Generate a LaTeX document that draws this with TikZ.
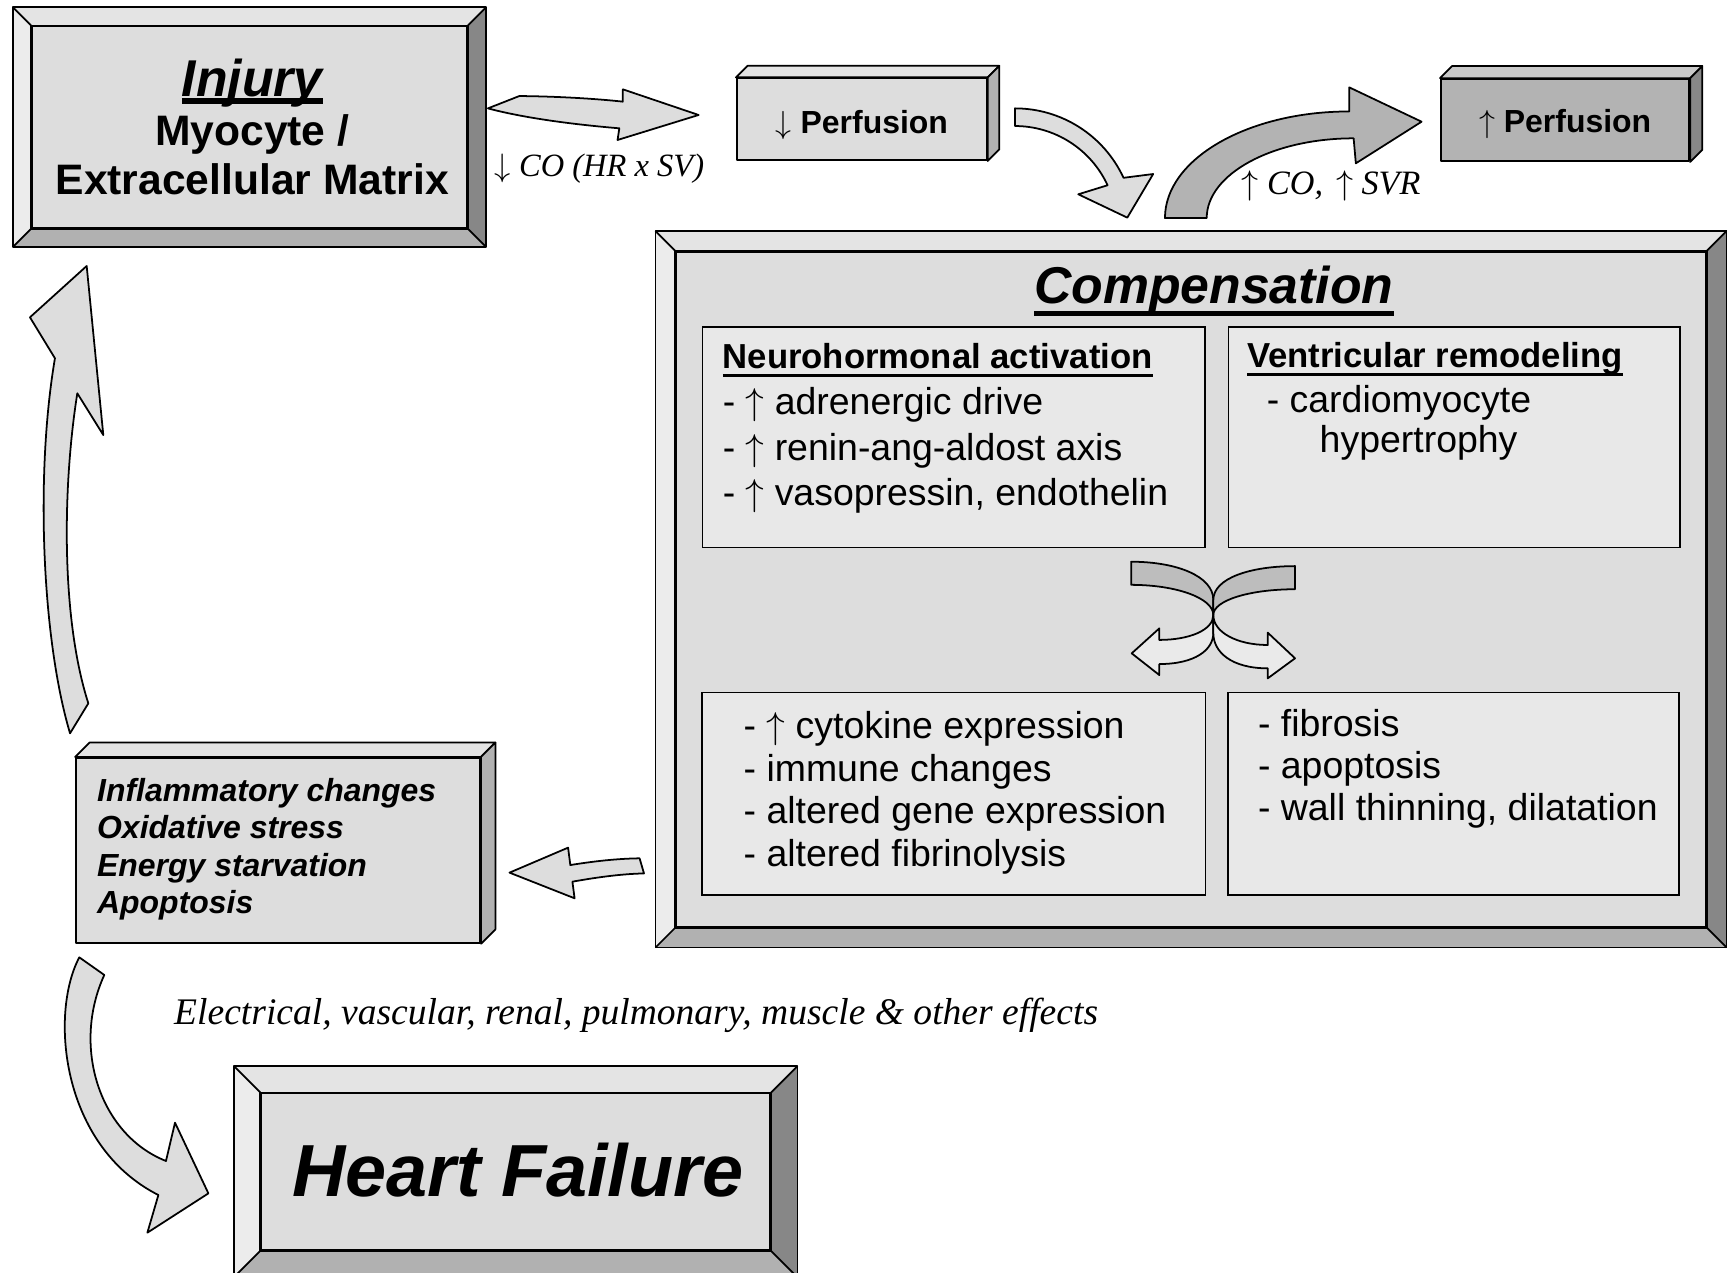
\documentclass[tikz,border=0pt]{standalone}
\usepackage{fix-cm}
\usepackage{fontspec}
\setmainfont{Liberation Serif}
\setsansfont{Liberation Sans}
\usepackage{tikz}
\usetikzlibrary{calc,positioning}

\definecolor{gface}{HTML}{DDDDDD}
\definecolor{gsub}{HTML}{E8E8E8}
\definecolor{gtop}{HTML}{E4E4E4}
\definecolor{gleft}{HTML}{ECECEC}
\definecolor{gright}{HTML}{878787}
\definecolor{gbottom}{HTML}{B1B1B1}
\definecolor{gdark}{HTML}{B3B3B3}
\definecolor{gdtop}{HTML}{C9C9C9}
\definecolor{gdside}{HTML}{888888}
\definecolor{gtwistdark}{HTML}{BDBDBD}
\definecolor{gtwistlight}{HTML}{EAEAEA}

\newcommand\fsz[2]{\fontsize{#1}{#2}\selectfont}
\newcommand\up{$\uparrow$}
\newcommand\dn{$\downarrow$}
\newsavebox\ulbox
\newcommand\thickul[3]{\sbox\ulbox{#3}\rlap{\rule[-#1]{\wd\ulbox}{#2}}\usebox\ulbox}

% bevelled frame round a face node
\newcommand\bevelframe[2]{%
  \coordinate (#1-a) at ($(#1.north west)+(-#2,-#2)$);
  \coordinate (#1-b) at ($(#1.north east)+(#2,-#2)$);
  \coordinate (#1-c) at ($(#1.south east)+(#2,#2)$);
  \coordinate (#1-d) at ($(#1.south west)+(-#2,#2)$);
  \fill[gtop] (#1-a) -- (#1-b) -- (#1.north east) -- (#1.north west) -- cycle;
  \fill[gright] (#1-b) -- (#1-c) -- (#1.south east) -- (#1.north east) -- cycle;
  \fill[gbottom] (#1-c) -- (#1-d) -- (#1.south west) -- (#1.south east) -- cycle;
  \fill[gleft] (#1-d) -- (#1-a) -- (#1.north west) -- (#1.south west) -- cycle;
  \draw[outline] (#1-a) -- (#1.north west) (#1-b) -- (#1.north east)
    (#1-c) -- (#1.south east) (#1-d) -- (#1.south west);
  \draw[outline] (#1-a) rectangle (#1-c) (#1.north west) rectangle (#1.south east);
}
% top and side of a raised box
\newcommand\slab[4]{%
  \filldraw[outline, fill=#3] (#1.north west) -- ++(#2,-#2) -- ($(#1.north east)+(#2,-#2)$) -- (#1.north east) -- cycle;
  \filldraw[outline, fill=#4] (#1.north east) -- ++(#2,-#2) -- ($(#1.south east)+(#2,-#2)$) -- (#1.south east) -- cycle;
}

\begin{document}
\begin{tikzpicture}[x=1pt, y=-1pt,
    every node/.append style={inner sep=0pt},
    outline/.style={line width=1.6pt, line join=round},
    face/.style={draw, outline, fill=gface},
    subbox/.style={draw, line width=1.5pt, fill=gsub},
    fat/.style={draw, outline, fill=gface},
    item/.style={font=\sffamily\fsz{34}{#1}, align=left, anchor=base west}]
  \useasboundingbox (0,0) rectangle (1568,1155);

  % injury
  \node[face, minimum width=395, minimum height=183] (injury) at (226.5,115.5) {};
  \bevelframe{injury}{16.5}
  \node[font=\sffamily\bfseries\fsz{38.7}{44.5}, align=center, anchor=base] (injurytxt) at (229,177)
    {{\fsz{47}{44.5}\thickul{6pt}{5pt}{\itshape Injury}}\\Myocyte /\\Extracellular Matrix};

  % perfusion boxes
  \node[face, minimum width=227, minimum height=74.3, text height=25.6pt, text depth=0pt,
        font=\sffamily\bfseries\fsz{29}{29}] (perfdown) at (782.5,108.2) {\dn\ Perfusion};
  \slab{perfdown}{10.5}{gtop}{gbottom}
  \node[face, fill=gdark, minimum width=225.5, minimum height=74.5, text height=22.2pt, text depth=0pt,
        font=\sffamily\bfseries\fsz{29}{29}] (perfup) at (1421,109) {\up\ Perfusion};
  \slab{perfup}{11}{gdtop}{gdside}

  % compensation
  \node[face, minimum width=935, minimum height=613] (comp) at (1081.4,535) {};
  \bevelframe{comp}{18}
  \node[font=\sffamily\bfseries\itshape\fsz{47}{47}, anchor=base] (comptitle) at (1102,276)
    {\thickul{10.5pt}{4.5pt}{Compensation}};

  \node[subbox, minimum width=456, minimum height=200] (neuro) at (865.8,397.1) {};
  \node[subbox, minimum width=409.6, minimum height=200, right=20.2pt of neuro] (remod) {};
  \node[subbox, minimum width=457.2, minimum height=184, below=130pt of neuro] (cyto) {};
  \node[subbox, minimum width=409.6, minimum height=184, right=18.9pt of cyto] (dilat) {};

  \node[item=41.7] (neurotxt) at (656,459.4)
    {{\bfseries\fsz{31.5}{41.7}\thickul{7.6pt}{2.6pt}{Neurohormonal activation}}\\- \up\ adrenergic drive\\- \up\ renin-ang-aldost axis\\- \up\ vasopressin, endothelin};
  \node[item=41.7] (remodtxt) at (1132,411)
    {{\bfseries\fsz{31.5}{41.7}\thickul{7.6pt}{2.6pt}{Ventricular remodeling}}\\[-1.5pt]\hspace*{18pt}- cardiomyocyte\\[-5pt]\hspace*{66pt}hypertrophy};
  \node[item=38.8] (cytotxt) at (675,786.9)
    {- \up\ cytokine expression\\- immune changes\\- altered gene expression\\- altered fibrinolysis};
  \node[item=37.8] (dilattxt) at (1142,744.5)
    {- fibrosis\\- apoptosis\\- wall thinning, dilatation};

  % crossing arrows
  \draw[fat, fill=gtwistlight] (1101.6,558.4) .. controls (1101.6,572) and (1080,581) .. (1052.6,581)
    -- (1052.6,570.5) -- (1027.5,593.2) -- (1052.6,612.9) -- (1052.6,602.9)
    .. controls (1085,602.9) and (1101.6,590) .. (1101.6,574.8) -- cycle;
  \draw[fat, fill=gtwistlight] (1101.6,558.4) .. controls (1101.6,574) and (1123,585.6) .. (1151,585.6)
    -- (1151,574.4) -- (1175.8,597.7) -- (1151,615.9) -- (1151,606.8)
    .. controls (1118,606.8) and (1101.6,592) .. (1101.6,574.8) -- cycle;
  \draw[fat, fill=gtwistdark] (1027,510) .. controls (1068,510) and (1101.6,523) .. (1101.6,544.7)
    -- (1101.6,558.4) .. controls (1101.6,543) and (1068,531) .. (1027,531) -- cycle;
  \draw[fat, fill=gtwistdark] (1175.8,514) .. controls (1135,514) and (1101.6,525) .. (1101.6,544.7)
    -- (1101.6,558.4) .. controls (1101.6,545) and (1135,535) .. (1175.8,535) -- cycle;

  % stress box
  \node[face, minimum width=367, minimum height=168] (stress) at (252.5,772) {};
  \slab{stress}{13}{gtop}{gbottom}
  \node[font=\sffamily\bfseries\itshape\fsz{29}{33.8}, align=left, anchor=base west] (stresstxt) at (88,829.3)
    {Inflammatory changes\\Oxidative stress\\Energy starvation\\Apoptosis};

  % heart failure
  \node[face, minimum width=462, minimum height=142] (hf) at (468.2,1063.8) {};
  \bevelframe{hf}{24}
  \node[font=\sffamily\bfseries\itshape\fsz{67}{67}, anchor=base] (hftxt) at (470,1086.5) {Heart Failure};

  % labels
  \node[font=\itshape\fsz{29.5}{30}, anchor=base west] (colbl) at (449,160) {\dn\ CO (HR x SV)};
  \node[font=\itshape\fsz{31}{31}, anchor=base west] (svrlbl) at (1127,177) {\up\ CO,\hspace{4pt} \up\ SVR};
  \node[font=\itshape\fsz{34.1}{34}, anchor=base west] (effects) at (158,930)
    {Electrical, vascular, renal, pulmonary, muscle \& other effects};

  % block arrows
  \draw[fat] (443,98.4) -- (471.5,87.2) .. controls (505,87.5) and (540,89.5) .. (565.5,92.3)
    -- (565.5,81.1) -- (634.3,104.4) -- (560.7,127.1) -- (562.3,116.5)
    .. controls (520,113) and (475,107) .. (443,98.4) -- cycle;
  \draw[fat] (921.5,98.4) arc[start angle=-90, end angle=-24.8, radius=108.6]
    -- (1047,158) -- (1023.5,197.6) -- (979,176.4) -- (1005.6,168.2)
    arc[start angle=-24.8, end angle=-90, radius=92.6] -- cycle;
  \draw[fat, fill=gdark] (1057.7,198) arc[start angle=180, end angle=270, x radius=167.3, y radius=96.8]
    -- (1225,79.3) -- (1290.7,110.5) -- (1231,148.3) -- (1229,125.6)
    arc[start angle=270, end angle=180, x radius=133.4, y radius=72.4] -- cycle;
  \draw[fat] (462.6,792.3) -- (515.8,769.6) -- (517.8,785.4) .. controls (545,781) and (565,779.5) .. (580.7,779.3)
    -- (584.7,793) .. controls (565,793.5) and (545,796) .. (519.7,800.5) -- (521.7,815.6) -- cycle;
  \draw[fat] (63.6,665.8) .. controls (38,580) and (32,430) .. (49.9,325.3) -- (27.2,288.1) -- (78.7,241.5)
    -- (93.8,395) -- (70.2,357.1) .. controls (57,440) and (55,560) .. (80.2,638.6) -- cycle;
  \draw[fat] (72,869.2) .. controls (45,920) and (55,1040) .. (143.8,1085) -- (133.8,1119.2) -- (189.2,1083.5)
    -- (158.9,1019.3) -- (150.7,1054.1) .. controls (90,1030) and (65,950) .. (94.7,885.2) -- cycle;
\end{tikzpicture}
\end{document}
